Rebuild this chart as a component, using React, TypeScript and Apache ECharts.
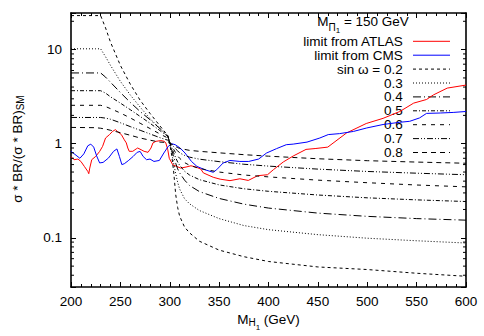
import React, { useEffect, useRef } from "react";
import * as echarts from "echarts";

const FONT = "'Liberation Sans', Arial, Helvetica, sans-serif";

// axis ranges and ticks
const massMin = 200;
const massMax = 600;
const massStep = 50;
const ratioMin = 0.03;
const ratioMax = 24.5;
const yMajorTicks = [0.1, 1, 10];
const yMinorTicks = [0.04, 0.05, 0.06, 0.07, 0.08, 0.09, 0.2, 0.3, 0.4, 0.5, 0.6, 0.7, 0.8, 0.9, 2, 3, 4, 5, 6, 7, 8, 9, 20];

// limit from ATLAS
const atlasMass = [200, 203, 207, 210, 213.5, 217, 218, 219, 221, 225, 229, 232, 235, 239, 242, 245, 247, 251, 254, 256, 257.5, 259, 262.5, 266, 267.5, 271, 274, 278, 281, 283, 286, 291, 294.5, 296, 298, 299.5, 303, 307, 311, 316.5, 321.5, 326.5, 331.5, 334, 344, 351, 361, 371, 379.5, 389, 399, 405, 415, 425, 438, 448, 460, 479, 499, 516, 533, 547, 560, 567, 581, 600];
const atlasLimit = [0.73, 0.676, 0.687, 0.648, 0.574, 0.508, 0.48, 0.551, 0.676, 0.733, 0.828, 0.937, 1.15, 1.25, 1.35, 1.41, 1.35, 1.25, 1.1, 1.02, 0.9, 0.83, 0.83, 0.88, 0.9, 0.863, 0.83, 0.81, 0.9, 1.02, 1.06, 1.08, 1.06, 1.02, 0.863, 0.7, 0.598, 0.574, 0.551, 0.565, 0.583, 0.565, 0.537, 0.49, 0.44, 0.42, 0.405, 0.424, 0.407, 0.457, 0.468, 0.53, 0.64, 0.74, 0.87, 0.89, 0.92, 1.3, 1.64, 1.86, 2.2, 2.7, 2.95, 3.3, 3.9, 4.2];

// limit from CMS
const cmsMass = [200, 204, 209, 213, 217, 220, 223, 226, 229, 232.5, 238, 243, 246.5, 249, 251.5, 254, 258, 263, 267, 270, 273, 276.5, 280, 284, 289.5, 294, 298.5, 302, 305.5, 310.5, 315.5, 322, 327.5, 335.5, 344, 347.5, 354, 361, 371, 380, 390, 398, 408, 418, 425, 439, 452, 460.5, 472, 486, 499.5, 516, 533, 543, 553, 560, 574, 587, 600];
const cmsLimit = [0.83, 0.77, 0.7, 0.78, 0.95, 0.99, 0.92, 0.74, 0.625, 0.633, 0.705, 0.828, 0.88, 0.733, 0.6, 0.613, 0.66, 0.733, 0.81, 0.828, 0.733, 0.676, 0.687, 0.648, 0.664, 0.796, 0.937, 1.0, 0.976, 0.9, 0.796, 0.648, 0.574, 0.529, 0.497, 0.529, 0.623, 0.664, 0.648, 0.648, 0.687, 0.796, 0.885, 0.976, 0.99, 1.04, 1.15, 1.25, 1.28, 1.35, 1.47, 1.6, 1.69, 1.73, 1.88, 2.1, 2.12, 2.15, 2.2];

// predictions for sin omega
const curveMass = [200, 225, 230, 235, 240, 250, 260, 270, 280, 290, 298, 300, 302, 304, 306, 308, 310, 315, 320, 330, 350, 375, 400, 450, 500, 550, 600];
const sinOmega = ["0.2", "0.3", "0.4", "0.5", "0.6", "0.7", "0.8"];
const ratioSin02 = [23, 23, 23, 17, 12, 6.8, 4.3, 2.9, 2.1, 1.55, 1.22, 1.0, 0.75, 0.5, 0.29, 0.21, 0.17, 0.13, 0.113, 0.092, 0.074, 0.063, 0.056, 0.049, 0.046, 0.042, 0.039];
const ratioSin03 = [10.2, 10.2, 10.2, 8.4, 6.8, 4.6, 3.3, 2.45, 1.85, 1.45, 1.2, 1.02, 0.8, 0.62, 0.48, 0.39, 0.33, 0.26, 0.23, 0.195, 0.16, 0.135, 0.122, 0.108, 0.099, 0.093, 0.088];
const ratioSin04 = [5.65, 5.65, 5.65, 5.1, 4.5, 3.5, 2.75, 2.2, 1.8, 1.45, 1.22, 1.02, 0.86, 0.72, 0.62, 0.54, 0.49, 0.41, 0.36, 0.31, 0.262, 0.228, 0.207, 0.183, 0.169, 0.16, 0.154];
const ratioSin05 = [3.66, 3.66, 3.66, 3.45, 3.15, 2.7, 2.3, 1.95, 1.65, 1.38, 1.2, 1.03, 0.91, 0.8, 0.71, 0.64, 0.59, 0.51, 0.465, 0.415, 0.365, 0.332, 0.312, 0.285, 0.266, 0.253, 0.243];
const ratioSin06 = [2.56, 2.56, 2.56, 2.48, 2.36, 2.12, 1.88, 1.65, 1.45, 1.27, 1.15, 1.03, 0.95, 0.87, 0.8, 0.74, 0.7, 0.63, 0.59, 0.545, 0.5, 0.465, 0.444, 0.41, 0.385, 0.364, 0.348];
const ratioSin07 = [1.9, 1.9, 1.9, 1.87, 1.82, 1.67, 1.52, 1.39, 1.27, 1.16, 1.09, 1.04, 0.98, 0.93, 0.88, 0.84, 0.8, 0.75, 0.72, 0.685, 0.645, 0.605, 0.578, 0.537, 0.507, 0.486, 0.468];
const ratioSin08 = [1.49, 1.48, 1.46, 1.43, 1.39, 1.31, 1.23, 1.15, 1.09, 1.04, 1.03, 1.02, 0.99, 0.96, 0.93, 0.91, 0.89, 0.87, 0.85, 0.83, 0.8, 0.765, 0.737, 0.692, 0.66, 0.638, 0.62];
const sinRatios = [ratioSin02, ratioSin03, ratioSin04, ratioSin05, ratioSin06, ratioSin07, ratioSin08];

// styles
const sinDashes = [[3, 3], [1, 2], [8, 3, 1, 3], [4, 2, 1, 2], [4, 5], [6, 2, 1, 2, 1, 2], [5, 4]];
const ATLAS_COLOR = "#ff0000";
const CMS_COLOR = "#0000ff";

export default function App() {
  const ref = useRef<HTMLDivElement>(null);

  useEffect(() => {
    document.body.style.margin = "0";
    if (!ref.current) return;
    const chart = echarts.init(ref.current, null, { renderer: "svg" });

    const axisLine = { show: true, onZero: false, lineStyle: { color: "#000", width: 1.6 } };
    const axisTick = { show: true, inside: true, length: 5, lineStyle: { color: "#000", width: 1 } };
    const labelStyle = { color: "#000", fontSize: 13.5, fontFamily: FONT };

    const legendNames = ["limit from ATLAS", "limit from CMS", ...sinOmega.map((s, i) => (i === 0 ? "sin ω = " + s : s))];
    const legendLines = [{ color: ATLAS_COLOR, dash: null as number[] | null }, { color: CMS_COLOR, dash: null }, ...sinDashes.map((d) => ({ color: "#000", dash: d }))];

    const legendGraphics: any[] = [];
    legendNames.forEach((name, i) => {
      const y = 41.3 + i * 13.9;
      legendGraphics.push({
        type: "text",
        x: 402.7,
        y,
        style: { text: name, align: "right", verticalAlign: "middle", fontSize: 13.5, fontFamily: FONT, fill: "#000" },
      });
      legendGraphics.push({
        type: "line",
        shape: { x1: 413, y1: y, x2: 450, y2: y },
        style: { stroke: legendLines[i].color, lineWidth: 1, lineDash: legendLines[i].dash || undefined },
      });
    });

    const mainTok = { fontSize: 13.5, fontFamily: FONT, fill: "#000", verticalAlign: "top" };
    const subTok = (size: number, pad: number) => ({ fontSize: size, fontFamily: FONT, fill: "#000", verticalAlign: "top", padding: [pad, 0, 0, 0] });

    const titleGraphics: any[] = [
      {
        type: "text",
        x: 363,
        y: 14.25,
        style: {
          text: "{m|M}{s|Π}{t|1}{m| = 150 GeV}",
          align: "center",
          verticalAlign: "top",
          rich: { m: mainTok, s: subTok(10, 7.75), t: subTok(8, 12.25) },
        },
      },
      {
        type: "text",
        x: 268.5,
        y: 312,
        style: {
          text: "{m|M}{s|H}{t|1}{m| (GeV)}",
          align: "center",
          verticalAlign: "top",
          rich: { m: mainTok, s: subTok(10, 5.85), t: subTok(8, 11.5) },
        },
      },
      {
        type: "text",
        x: 10,
        y: 149,
        rotation: Math.PI / 2,
        style: {
          text: "{m|σ * BR/(σ * BR)}{s|SM}",
          align: "center",
          verticalAlign: "top",
          rich: { m: mainTok, s: subTok(10, 5.75) },
        },
      },
    ];

    const series: any[] = [
      {
        type: "line",
        name: "limit from ATLAS",
        data: atlasMass.map((m, i) => [m, atlasLimit[i]]),
        showSymbol: false,
        symbol: "none",
        lineStyle: { color: ATLAS_COLOR, width: 1 },
        silent: true,
        z: 2,
      },
      {
        type: "line",
        name: "limit from CMS",
        data: cmsMass.map((m, i) => [m, cmsLimit[i]]),
        showSymbol: false,
        symbol: "none",
        lineStyle: { color: CMS_COLOR, width: 1 },
        silent: true,
        z: 2,
      },
      ...sinRatios.map((vals, k) => ({
        type: "line",
        name: "sin ω = " + sinOmega[k],
        data: curveMass.map((m, i) => [m, vals[i]]),
        showSymbol: false,
        symbol: "none",
        lineStyle: { color: "#000", width: 1, type: sinDashes[k] },
        silent: true,
        z: 3,
      })),
      {
        type: "custom",
        silent: true,
        data: yMinorTicks.map((v) => [massMin, v]),
        renderItem: (_p: any, api: any) => {
          const v = api.value(1);
          const left = api.coord([massMin, v]);
          const right = api.coord([massMax, v]);
          return {
            type: "group",
            children: [
              { type: "line", shape: { x1: left[0], y1: left[1], x2: left[0] + 3, y2: left[1] }, style: { stroke: "#000", lineWidth: 1 } },
              { type: "line", shape: { x1: right[0], y1: right[1], x2: right[0] - 3, y2: right[1] }, style: { stroke: "#000", lineWidth: 1 } },
            ],
          };
        },
        z: 4,
      },
    ];

    const xBase = {
      type: "value",
      min: massMin,
      max: massMax,
      interval: massStep,
      axisLine,
      axisTick,
      minorTick: { show: true, splitNumber: 5, length: 3, lineStyle: { color: "#000", width: 1 } },
      splitLine: { show: false },
      minorSplitLine: { show: false },
    };
    const yBase = {
      type: "log",
      logBase: 10,
      min: ratioMin,
      max: ratioMax,
      axisLine,
      axisTick,
      splitLine: { show: false },
    };

    chart.setOption({
      animation: false,
      backgroundColor: "#fff",
      grid: { left: 71, top: 13, width: 395, height: 274, containLabel: false, outerBoundsMode: "none" },
      xAxis: [
        { ...xBase, position: "bottom", axisLabel: { ...labelStyle, margin: 7 } },
        { ...xBase, position: "top", axisLabel: { show: false } },
      ],
      yAxis: [
        {
          ...yBase,
          position: "left",
          axisLabel: {
            ...labelStyle,
            margin: 9,
            formatter: (v: number) => {
              const t = yMajorTicks.find((m) => Math.abs(v / m - 1) < 1e-6);
              return t === undefined ? "" : String(t);
            },
          },
        },
        { ...yBase, position: "right", axisLabel: { show: false } },
      ],
      series,
      graphic: [...legendGraphics, ...titleGraphics],
    });

    return () => chart.dispose();
  }, []);

  return <div ref={ref} style={{ width: 484, height: 336, background: "#fff" }} />;
}
